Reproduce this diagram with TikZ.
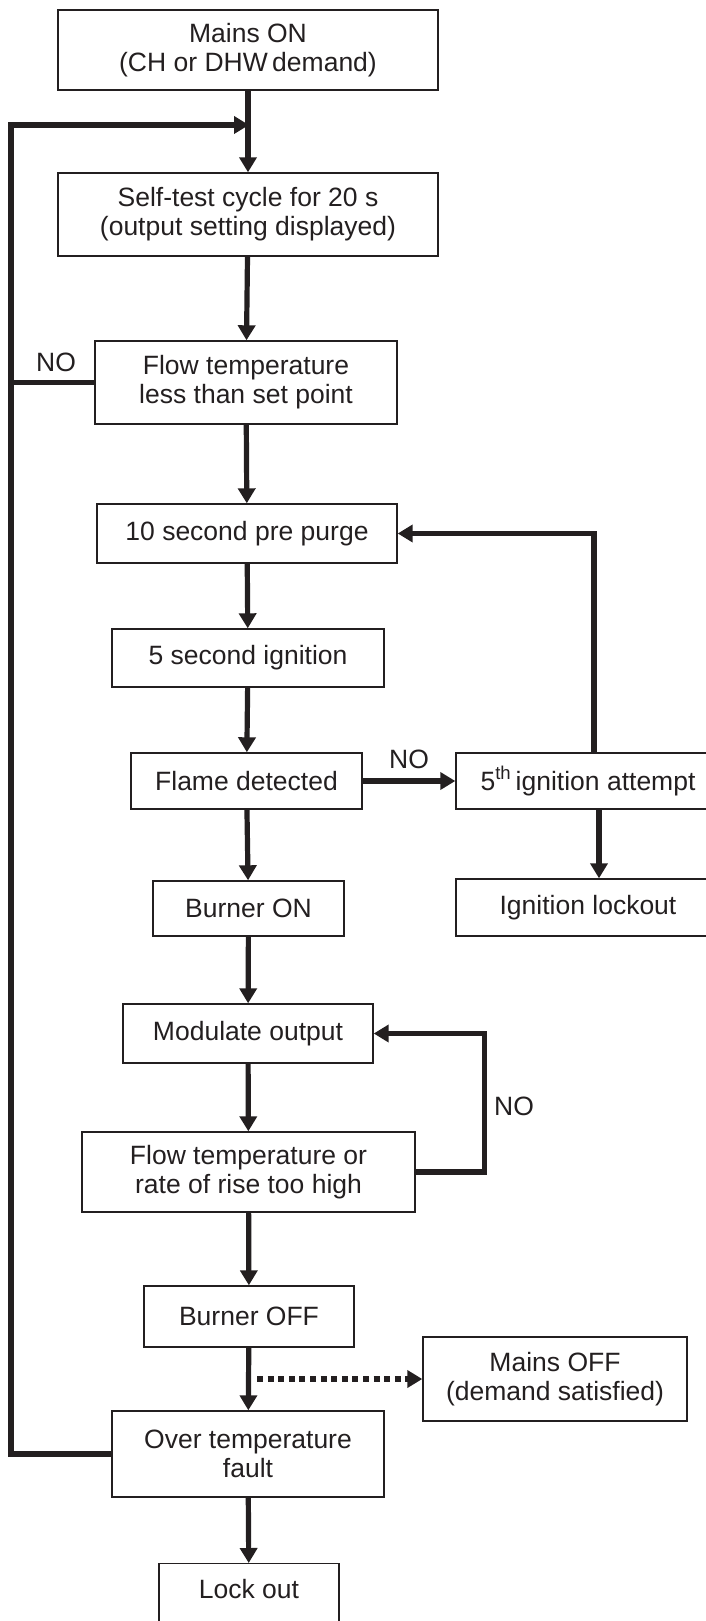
\documentclass[tikz,border=0pt]{standalone}
\usepackage{fontspec}
\setmainfont{Liberation Sans}
\usepackage{tikz}
\usetikzlibrary{arrows.meta}
\tikzset{>={Triangle[width=8.5pt,length=7.5pt]}}
\definecolor{chartink}{HTML}{231F20}
\tikzset{
  stage/.style={draw=chartink, line width=0.7pt, align=center, inner sep=0pt, text=chartink, font=\fontsize{13.25}{14.5}\selectfont},
  answer/.style={inner sep=0pt, text=chartink, font=\fontsize{13.25}{14.5}\selectfont},
  flow/.style={draw=chartink, line width=2.6pt, ->},
  loopline/.style={draw=chartink, line width=2.6pt},
  dotflow/.style={draw=chartink, line width=2.6pt, dash pattern=on 3pt off 2.3pt, ->}
}

\begin{document}
\begin{tikzpicture}[x=0.5pt, y=-0.5pt]
  \useasboundingbox (0,0) rectangle (706,1621);
  % main column
  \node[stage, minimum width=190pt, minimum height=40pt] (mainson) at (248,50) {Mains ON\\(CH or DHW\,demand)};
  \node[stage, minimum width=190pt, minimum height=41.5pt] (selftest) at (248,214.5) {Self-test cycle for 20 s\\(output setting displayed)};
  \node[stage, minimum width=151pt, minimum height=41.5pt] (flowlow) at (246,382.5) {Flow temperature\\less than set point};
  \node[stage, minimum width=150pt, minimum height=29.5pt] (prepurge) at (247,533.5) {10 second pre purge};
  \node[stage, minimum width=136pt, minimum height=29pt] (ignition) at (248,658) {5 second ignition};
  \node[stage, minimum width=115.5pt, minimum height=28pt] (flame) at (246.5,781) {Flame detected};
  \node[stage, minimum width=95.5pt, minimum height=27.5pt] (burneron) at (248.5,908.5) {Burner ON};
  \node[stage, minimum width=125pt, minimum height=29.5pt] (modulate) at (248,1033.5) {Modulate output};
  \node[stage, minimum width=166.5pt, minimum height=40pt] (flowhigh) at (248.5,1172) {Flow temperature or\\rate of rise too high};
  \node[stage, minimum width=105pt, minimum height=30.5pt] (burneroff) at (249,1316.5) {Burner OFF};
  \node[stage, minimum width=136pt, minimum height=43pt] (overtemp) at (248,1454) {Over temperature\\fault};
  \node[stage, anchor=north, minimum width=90pt, text height=17.5pt, text depth=20pt] (lockout) at (249,1563) {Lock out};
  % side boxes
  \node[stage, minimum width=132pt, minimum height=28pt] (attempt) at (588,781) {5\textsuperscript{th}\hspace{0.15em}ignition attempt};
  \node[stage, minimum width=132pt, minimum height=28.5pt] (ignlock) at (588,907.5) {Ignition lockout};
  \node[stage, minimum width=132pt, minimum height=42pt] (mainsoff) at (555,1379) {Mains OFF\\(demand satisfied)};
  % answers
  \node[answer] (nolow) at (56,362) {NO};
  \node[answer] (noflame) at (409,759) {NO};
  \node[answer] (nohigh) at (514,1106) {NO};
  \coordinate (rail) at (11,125);
  \coordinate (merge) at (249,125);

  \draw[flow] (mainson) -- (selftest);
  \draw[flow] (selftest) -- (flowlow);
  \draw[flow] (flowlow) -- (prepurge);
  \draw[flow] (prepurge) -- (ignition);
  \draw[flow] (ignition) -- (flame);
  \draw[flow] (flame) -- (burneron);
  \draw[flow] (burneron) -- (modulate);
  \draw[flow] (modulate) -- (flowhigh);
  \draw[flow] (flowhigh) -- (burneroff);
  \draw[flow] (burneroff) -- (overtemp);
  \draw[flow] (overtemp) -- (lockout);
  \draw[flow] (flame) -- (attempt);
  \draw[flow] ([xshift=5.5pt]attempt.south) -- ([xshift=5.5pt]ignlock.north);
  \draw[flow] ([xshift=3pt]attempt.north) |- (prepurge.east);
  \draw[flow] (flowhigh.east) -- ++(69,0) |- (modulate.east);
  \draw[flow] (overtemp.west) -| (rail) -- (merge);
  \draw[loopline] (flowlow.west) -- (flowlow.west -| rail);
  \draw[dotflow] ([xshift=4pt]burneroff.south |- mainsoff.west) -- (mainsoff.west);
\end{tikzpicture}
\end{document}
